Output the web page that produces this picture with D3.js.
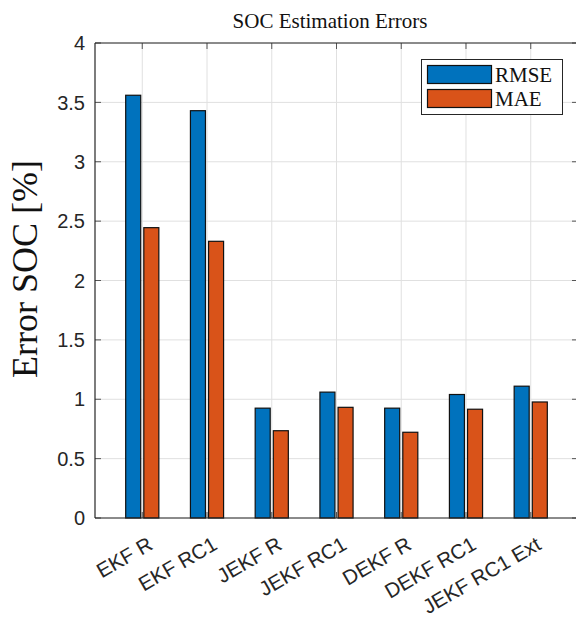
<!DOCTYPE html>
<html>
<head>
<meta charset="utf-8">
<script src="https://cdn.jsdelivr.net/npm/d3@7/dist/d3.min.js"></script>
<style>
  body { margin: 0; background: #fff; }
  svg { display: block; }
</style>
</head>
<body>
<svg id="canvas" width="576" height="622"></svg>
<script>
const categories = ["EKF R", "EKF RC1", "JEKF R", "JEKF RC1", "DEKF R", "DEKF RC1", "JEKF RC1 Ext"];
const rmse = [3.56, 3.43, 0.925, 1.06, 0.925, 1.04, 1.11];
const mae = [2.445, 2.33, 0.735, 0.932, 0.722, 0.916, 0.977];
const yTicks = [0, 0.5, 1, 1.5, 2, 2.5, 3, 3.5, 4];
const seriesNames = ["RMSE", "MAE"];
const colors = ["#0072BD", "#D95319"];

const svg = d3.select("#canvas");
const plotL = 95, plotR = 578, plotT = 43, plotB = 518;
const axisColor = "#262626";
const gridColor = "#e0e0e0";

// category index 1..7, limits like matlab's
const x = d3.scaleLinear().domain([0.27, 7.73]).range([plotL, plotR]);
const y = d3.scaleLinear().domain([0, 4]).range([plotB, plotT]);

const barW = x(1.232) - x(1);
const offsets = [-0.14, 0.14];

// grid
svg.append("g").selectAll("line")
    .data(yTicks)
    .enter().append("line")
    .attr("x1", plotL).attr("x2", plotR)
    .attr("y1", d => y(d)).attr("y2", d => y(d))
    .attr("stroke", gridColor).attr("stroke-width", 1);

svg.append("g").selectAll("line")
    .data(categories)
    .enter().append("line")
    .attr("x1", (d, i) => x(i + 1)).attr("x2", (d, i) => x(i + 1))
    .attr("y1", plotT).attr("y2", plotB)
    .attr("stroke", gridColor).attr("stroke-width", 1);

// ticks (inward)
const tickLen = 6;
const ticks = svg.append("g").attr("stroke", "#555").attr("stroke-width", 1);
yTicks.forEach(v => {
    ticks.append("line").attr("x1", plotL).attr("x2", plotL + tickLen).attr("y1", y(v)).attr("y2", y(v));
    ticks.append("line").attr("x1", plotR - tickLen).attr("x2", plotR).attr("y1", y(v)).attr("y2", y(v));
});
categories.forEach((c, i) => {
    ticks.append("line").attr("x1", x(i + 1)).attr("x2", x(i + 1)).attr("y1", plotB).attr("y2", plotB - tickLen);
    ticks.append("line").attr("x1", x(i + 1)).attr("x2", x(i + 1)).attr("y1", plotT).attr("y2", plotT + tickLen);
});

// bars
[rmse, mae].forEach((vals, s) => {
    svg.append("g").selectAll("rect")
        .data(vals)
        .enter().append("rect")
        .attr("x", (d, i) => x(i + 1 + offsets[s]) - barW / 2)
        .attr("y", d => y(d))
        .attr("width", barW)
        .attr("height", d => y(0) - y(d))
        .attr("fill", colors[s])
        .attr("stroke", "#111")
        .attr("stroke-width", 1.2);
});

// axis box lines
svg.append("line").attr("x1", plotL).attr("x2", plotL).attr("y1", plotT).attr("y2", plotB)
    .attr("stroke", axisColor).attr("stroke-width", 1.2);
svg.append("line").attr("x1", plotL).attr("x2", plotR).attr("y1", plotB).attr("y2", plotB)
    .attr("stroke", axisColor).attr("stroke-width", 1.2);
svg.append("line").attr("x1", plotL).attr("x2", plotR).attr("y1", plotT).attr("y2", plotT)
    .attr("stroke", axisColor).attr("stroke-width", 1.2);

// y tick labels
svg.append("g").selectAll("text")
    .data(yTicks)
    .enter().append("text")
    .attr("x", plotL - 10)
    .attr("y", d => y(d))
    .attr("dy", "0.36em")
    .attr("text-anchor", "end")
    .attr("font-family", "Liberation Sans, Arial, sans-serif")
    .attr("font-size", 20)
    .attr("fill", axisColor)
    .text(d => d);

// x tick labels, rotated
svg.append("g").selectAll("text")
    .data(categories)
    .enter().append("text")
    .attr("transform", (d, i) => `translate(${x(i + 1) + 8},${plotB + 24}) rotate(-30)`)
    .attr("text-anchor", "end")
    .attr("dy", "0.36em")
    .attr("font-family", "Liberation Sans, Arial, sans-serif")
    .attr("font-size", 20.5)
    .attr("fill", axisColor)
    .text(d => d);

// title
svg.append("text")
    .attr("x", 330).attr("y", 28)
    .attr("text-anchor", "middle")
    .attr("font-family", "Liberation Serif, Times New Roman, serif")
    .attr("font-size", 21)
    .attr("fill", "#111")
    .text("SOC Estimation Errors");

// y label
svg.append("text")
    .attr("transform", `translate(37,269) rotate(-90)`)
    .attr("text-anchor", "middle")
    .attr("font-family", "Liberation Serif, Times New Roman, serif")
    .attr("font-size", 36)
    .attr("fill", "#111")
    .text("Error SOC [%]");

// legend
const lg = svg.append("g");
lg.append("rect")
    .attr("x", 421.5).attr("y", 59.5).attr("width", 141).attr("height", 55)
    .attr("fill", "#fff").attr("stroke", axisColor).attr("stroke-width", 1);
seriesNames.forEach((name, i) => {
    lg.append("rect")
        .attr("x", 427.5).attr("y", 65.5 + i * 24).attr("width", 64).attr("height", 18)
        .attr("fill", colors[i]).attr("stroke", "#111").attr("stroke-width", 1.2);
    lg.append("text")
        .attr("x", 495).attr("y", 82 + i * 24)
        .attr("font-family", "Liberation Serif, Times New Roman, serif")
        .attr("font-size", 21)
        .attr("fill", "#111")
        .text(name);
});
</script>
</body>
</html>
